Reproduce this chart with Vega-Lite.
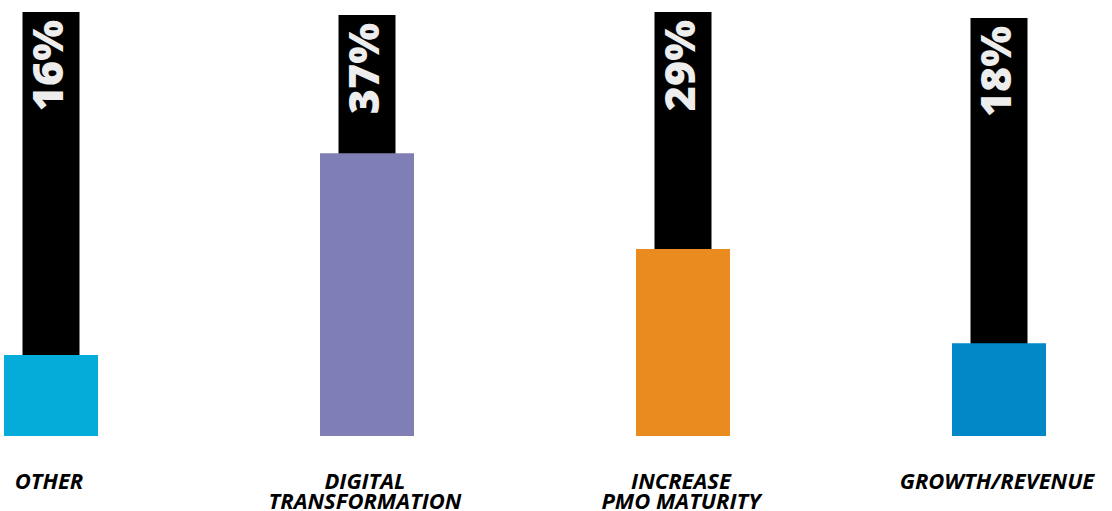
{
  "$schema": "https://vega.github.io/schema/vega-lite/v6.json",
  "width": 1112,
  "height": 511,
  "autosize": {"type": "none"},
  "padding": 0,
  "background": "white",
  "view": {"stroke": null},
  "data": {
    "values": [
      {"cat": "OTHER", "line1": "OTHER", "line2": "", "pct": "16%", "bar": 19.1, "stem": 100},
      {"cat": "DIGITAL TRANSFORMATION", "line1": "DIGITAL", "line2": "TRANSFORMATION", "pct": "37%", "bar": 66.7, "stem": 99.3},
      {"cat": "INCREASE PMO MATURITY", "line1": "INCREASE", "line2": "PMO MATURITY", "pct": "29%", "bar": 44.1, "stem": 100},
      {"cat": "GROWTH/REVENUE", "line1": "GROWTH/REVENUE", "line2": "", "pct": "18%", "bar": 21.9, "stem": 98.6}
    ]
  },
  "encoding": {
    "x": {
      "field": "cat",
      "type": "nominal",
      "sort": null,
      "scale": {"type": "point", "range": [51, 999], "padding": 0},
      "axis": null
    }
  },
  "layer": [
    {
      "mark": {"type": "bar", "width": 57, "color": "#000000"},
      "encoding": {
        "y": {
          "field": "stem",
          "type": "quantitative",
          "scale": {"domain": [-17.69, 102.83], "nice": false, "zero": false},
          "axis": null
        },
        "y2": {"datum": 0}
      }
    },
    {
      "mark": {"type": "bar", "width": 94},
      "encoding": {
        "y": {"field": "bar", "type": "quantitative"},
        "y2": {"datum": 0},
        "color": {
          "field": "cat",
          "type": "nominal",
          "scale": {
            "domain": ["OTHER", "DIGITAL TRANSFORMATION", "INCREASE PMO MATURITY", "GROWTH/REVENUE"],
            "range": ["#05ABD9", "#7F7FB6", "#E98B1F", "#0189C7"]
          },
          "legend": null
        }
      }
    },
    {
      "mark": {
        "type": "text",
        "angle": 270,
        "align": "right",
        "baseline": "alphabetic",
        "dx": -8,
        "dy": 12,
        "font": "Open Sans",
        "fontWeight": 800,
        "fontSize": 43,
        "color": "#EDEDED"
      },
      "encoding": {
        "y": {"field": "stem", "type": "quantitative"},
        "text": {"field": "pct"}
      }
    },
    {
      "mark": {
        "type": "text",
        "align": "center",
        "baseline": "alphabetic",
        "font": "Open Sans",
        "fontStyle": "italic",
        "fontWeight": "bold",
        "fontSize": 22,
        "dx": -2,
        "color": "#000000"
      },
      "encoding": {
        "y": {"datum": -12.4},
        "text": {"field": "line1"}
      }
    },
    {
      "mark": {
        "type": "text",
        "align": "center",
        "baseline": "alphabetic",
        "font": "Open Sans",
        "fontStyle": "italic",
        "fontWeight": "bold",
        "fontSize": 22,
        "dx": -2,
        "color": "#000000"
      },
      "encoding": {
        "y": {"datum": -17.2},
        "text": {"field": "line2"}
      }
    }
  ]
}
